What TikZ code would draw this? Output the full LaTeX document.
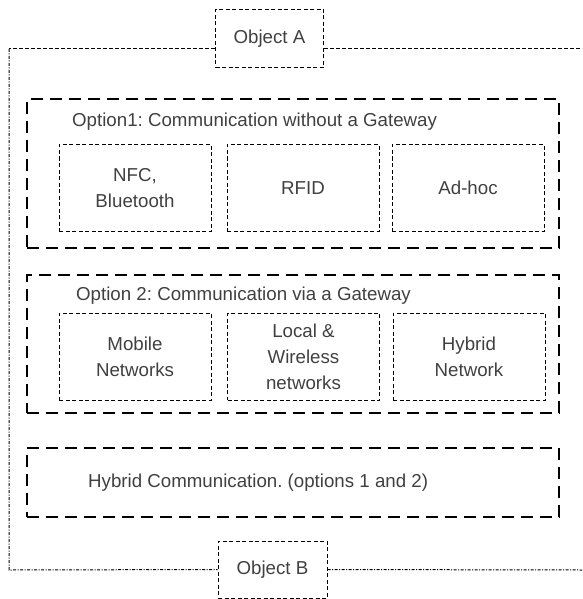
\documentclass[tikz,border=0pt]{standalone}
\usepackage{fontspec}
\setmainfont{Liberation Sans}
\frenchspacing
\tikzset{
  objbox/.style={draw, line width=1pt, dash pattern=on 4pt off 2.5pt,
    minimum width=108pt, minimum height=58pt, inner sep=0pt},
  optbox/.style={draw, line width=2.6pt, dash pattern=on 12pt off 7pt,
    minimum width=532pt, inner sep=0pt},
  techbox/.style={draw, line width=1pt, dash pattern=on 4pt off 2.5pt,
    minimum width=152pt, minimum height=87pt, align=center, inner sep=0pt},
  titletext/.style={anchor=west, inner sep=0pt},
  framedash/.style={line width=1pt, dash pattern=on 4pt off 2pt},
  framedot/.style={line width=1pt, dash pattern=on 3pt off 1.5pt on 1pt off 1.5pt}
}

\begin{document}
\begin{tikzpicture}[x=1pt, y=-1pt, font=\fontsize{18.7}{26}\selectfont, text=black!75]
  \useasboundingbox (0,0) rectangle (582,599);

  % the two objects
  \node[objbox] (objA) at (269.5,38.5) {Object A};
  \node[objbox, minimum width=109pt, minimum height=57pt] (objB) at (272.5,569.5) {Object B};

  % option 1
  \node[optbox, minimum height=149pt] (opt1) at (293,173.5) {};
  \node[titletext] (opt1title) at (72,122) {Option1: Communication without a Gateway};
  \node[techbox] (nfc) at (135,188) {NFC,\\Bluetooth};
  \node[techbox] (rfid) at (303,188) {RFID};
  \node[techbox] (adhoc) at (468,188) {Ad-hoc};

  % option 2
  \node[optbox, minimum height=138pt] (opt2) at (293,344) {};
  \node[titletext] (opt2title) at (76,296) {Option 2: Communication via a Gateway};
  \node[techbox] (mobile) at (135,356.5) {Mobile\\Networks};
  \node[techbox] (local) at (303.5,356.5) {Local \&\\Wireless\\networks};
  \node[techbox] (hybnet) at (469,356.5) {Hybrid\\Network};

  % hybrid
  \node[optbox, minimum height=69pt] (hyb) at (293,482.5) {};
  \node[titletext] (hybtitle) at (88,483) {Hybrid Communication. (options 1 and 2)};

  % outer frame
  \coordinate (tl) at (9,49);
  \coordinate (bl) at (9,570);
  \coordinate (tr) at (582,49);
  \coordinate (br) at (582,570);
  \draw[framedash] (objA.west |- tl) -- (tl);
  \draw[framedash] (objA.east |- tr) -- (tr);
  \draw[framedot] (tl) -- (bl) -- (objB.west);
  \draw[framedot] (objB.east) -- (br);
\end{tikzpicture}
\end{document}
